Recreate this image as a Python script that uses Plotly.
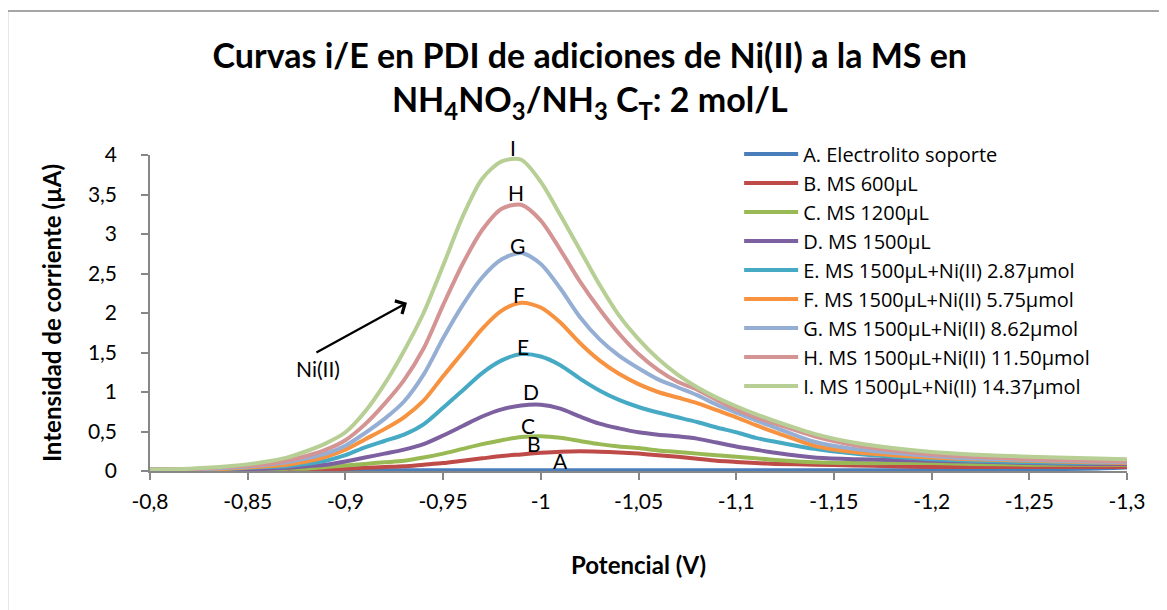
import plotly.graph_objects as go

# Potential (V)
potential = [-0.80, -0.82, -0.84,
             -0.86, -0.87, -0.88, -0.89, -0.90, -0.91, -0.92, -0.93, -0.94, -0.95,
             -0.96, -0.97, -0.98, -0.99, -1.00, -1.01, -1.02, -1.03, -1.04, -1.05,
             -1.06, -1.07, -1.08, -1.09, -1.10, -1.11, -1.12,
             -1.14, -1.16, -1.18, -1.20, -1.22, -1.25, -1.28, -1.30]

A_vals = [0.01, 0.01, 0.01,
          0.01, 0.01, 0.01, 0.01, 0.01, 0.01, 0.01, 0.01, 0.01, 0.01,
          0.01, 0.01, 0.01, 0.01, 0.01, 0.01, 0.01, 0.01, 0.01, 0.01,
          0.01, 0.01, 0.01, 0.01, 0.01, 0.01, 0.01,
          0.01, 0.01, 0.01, 0.012, 0.015, 0.02, 0.03, 0.045]
B_vals = [0.01, 0.01, 0.01,
          0.01, 0.01, 0.02, 0.02, 0.03, 0.04, 0.05, 0.06, 0.08, 0.10,
          0.13, 0.16, 0.19, 0.21, 0.23, 0.245, 0.25, 0.245, 0.235, 0.22,
          0.20, 0.18, 0.155, 0.13, 0.115, 0.10, 0.09,
          0.08, 0.07, 0.06, 0.05, 0.05, 0.05, 0.05, 0.05]
C_vals = [0.02, 0.02, 0.02,
          0.02, 0.03, 0.03, 0.05, 0.07, 0.09, 0.11, 0.13, 0.17, 0.22,
          0.28, 0.34, 0.39, 0.43, 0.44, 0.42, 0.38, 0.34, 0.31, 0.29,
          0.26, 0.24, 0.22, 0.20, 0.18, 0.16, 0.14,
          0.11, 0.10, 0.10, 0.10, 0.09, 0.08, 0.08, 0.08]
D_vals = [0.02, 0.02, 0.02,
          0.03, 0.04, 0.06, 0.08, 0.12, 0.17, 0.22, 0.27, 0.34, 0.45,
          0.57, 0.69, 0.78, 0.83, 0.84, 0.79, 0.69, 0.60, 0.54, 0.49,
          0.46, 0.44, 0.41, 0.36, 0.31, 0.27, 0.23,
          0.17, 0.15, 0.14, 0.13, 0.12, 0.10, 0.09, 0.09]
E_vals = [0.02, 0.02, 0.03,
          0.05, 0.06, 0.09, 0.13, 0.20, 0.30, 0.38, 0.46, 0.59, 0.80,
          1.02, 1.24, 1.40, 1.48, 1.45, 1.34, 1.17, 1.02, 0.90, 0.81,
          0.74, 0.68, 0.62, 0.55, 0.49, 0.42, 0.37,
          0.28, 0.22, 0.18, 0.15, 0.13, 0.11, 0.10, 0.10]
F_vals = [0.02, 0.02, 0.03,
          0.06, 0.08, 0.12, 0.18, 0.27, 0.40, 0.53, 0.68, 0.89, 1.20,
          1.50, 1.80, 2.03, 2.13, 2.07, 1.88, 1.62, 1.40, 1.23, 1.10,
          1.00, 0.93, 0.86, 0.77, 0.68, 0.58, 0.49,
          0.32, 0.24, 0.20, 0.17, 0.15, 0.13, 0.11, 0.10]
G_vals = [0.02, 0.02, 0.04,
          0.08, 0.11, 0.16, 0.22, 0.32, 0.48, 0.66, 0.88, 1.22, 1.68,
          2.10, 2.45, 2.68, 2.76, 2.62, 2.31, 1.95, 1.67, 1.46, 1.30,
          1.16, 1.06, 0.96, 0.84, 0.74, 0.64, 0.55,
          0.37, 0.28, 0.23, 0.19, 0.16, 0.14, 0.12, 0.11]
H_vals = [0.02, 0.02, 0.05,
          0.09, 0.13, 0.19, 0.27, 0.39, 0.59, 0.85, 1.15, 1.55, 2.10,
          2.62, 3.05, 3.32, 3.37, 3.17, 2.80, 2.40, 2.05, 1.74, 1.48,
          1.28, 1.13, 1.03, 0.90, 0.78, 0.68, 0.60,
          0.44, 0.33, 0.26, 0.21, 0.18, 0.15, 0.13, 0.12]
I_vals = [0.02, 0.03, 0.06,
          0.12, 0.17, 0.25, 0.35, 0.49, 0.75, 1.10, 1.52, 2.00, 2.60,
          3.22, 3.70, 3.92, 3.94, 3.66, 3.24, 2.80, 2.36, 1.97, 1.67,
          1.42, 1.22, 1.06, 0.93, 0.82, 0.72, 0.63,
          0.47, 0.36, 0.29, 0.24, 0.21, 0.18, 0.16, 0.15]

series_names = ["A. Electrolito soporte", "B. MS 600µL", "C. MS 1200µL", "D. MS 1500µL",
                "E. MS 1500µL+Ni(II) 2.87µmol", "F. MS 1500µL+Ni(II) 5.75µmol",
                "G. MS 1500µL+Ni(II) 8.62µmol", "H. MS 1500µL+Ni(II) 11.50µmol",
                "I. MS 1500µL+Ni(II) 14.37µmol"]
series_values = [A_vals, B_vals, C_vals, D_vals, E_vals, F_vals, G_vals, H_vals, I_vals]
colors = ["#4A7EBB", "#BE4B48", "#98B954", "#7D60A0", "#46AAC5", "#F69240",
          "#94AED4", "#D39493", "#B7CF95"]

# Peak labels
label_text = ["A", "B", "C", "D", "E", "F", "G", "H", "I"]
label_x = [-1.0103, -0.9965, -0.9934, -0.995, -0.9909, -0.9888, -0.9883, -0.9873, -0.9858]
label_y = [0.13, 0.35, 0.58, 1.01, 1.57, 2.23, 2.86, 3.52, 3.99]
label_shift = [0, 0, 0, 0, 0, 0, 0, 0, 8]

x_tickvals = [-0.8, -0.85, -0.9, -0.95, -1.0, -1.05, -1.1, -1.15, -1.2, -1.25, -1.3]
x_ticktext = ["-0,8", "-0,85", "-0,9", "-0,95", "-1", "-1,05", "-1,1", "-1,15", "-1,2", "-1,25", "-1,3"]
y_tickvals = [0, 0.5, 1, 1.5, 2, 2.5, 3, 3.5, 4]
y_ticktext = ["0", "0,5", "1", "1,5", "2", "2,5", "3", "3,5", "4"]

FONT = "Lato"
AXC = "#878787"

fig = go.Figure()
for name, vals, col in zip(series_names, series_values, colors):
    fig.add_trace(go.Scatter(x=potential, y=vals, mode="lines", name=name,
                             line=dict(color=col, width=4, shape="spline", smoothing=0.8)))

annotations = []
for t, lx, ly, sh in zip(label_text, label_x, label_y, label_shift):
    annotations.append(dict(x=lx, y=ly, xref="x", yref="y", text=t, showarrow=False, yshift=sh,
                            font=dict(family=FONT, size=21, color="black")))
# Arrow Ni(II)
annotations.append(dict(x=-0.9315, y=2.13, ax=-0.8844, ay=1.49, xref="x", yref="y",
                        axref="x", ayref="y", text="", showarrow=True, arrowhead=4,
                        arrowsize=1.3, arrowwidth=2.2, arrowcolor="black"))
annotations.append(dict(x=-0.886, y=1.30, xref="x", yref="y", text="Ni(II)", showarrow=False,
                        font=dict(family=FONT, size=21, color="black")))

fig.update_layout(
    width=1159, height=602,
    margin=dict(l=142, r=40, t=147, b=139),
    paper_bgcolor="white", plot_bgcolor="white",
    separators=", ",
    title=dict(text="<b>Curvas i/E en PDI de adiciones de Ni(II) a la MS en<br>NH<sub>4</sub>NO<sub>3</sub>/NH<sub>3</sub> C<sub>T</sub>: 2 mol/L</b>",
               x=0.502, xanchor="center", y=0.90, yanchor="middle",
               font=dict(family=FONT, size=34, color="black")),
    xaxis=dict(range=[-0.8, -1.3], tickvals=x_tickvals, ticktext=x_ticktext,
               showgrid=False, zeroline=False, showline=True, linecolor=AXC, linewidth=1.5,
               ticks="outside", ticklen=7, tickcolor=AXC, tickwidth=1.5,
               ticklabelstandoff=4,
               tickfont=dict(family=FONT, size=21, color="black"),
               title=dict(text="<b>Potencial (V)</b>", font=dict(family=FONT, size=24, color="black"),
                          standoff=45)),
    yaxis=dict(range=[0, 4], tickvals=y_tickvals, ticktext=y_ticktext,
               showgrid=False, zeroline=False, showline=True, linecolor=AXC, linewidth=1.5,
               ticks="outside", ticklen=7, tickcolor=AXC, tickwidth=1.5,
               ticklabelstandoff=20,
               tickfont=dict(family=FONT, size=21, color="black"),
               title=dict(text="<b>Intensidad de corriente (µA)</b>",
                          font=dict(family=FONT, size=24, color="black"), standoff=20)),
    legend=dict(x=0.603, y=1.065, xanchor="left", yanchor="top", bgcolor="rgba(0,0,0,0)",
                font=dict(family="Open Sans", size=20, color="black"), itemwidth=54),
    showlegend=True,
    annotations=annotations,
    shapes=[dict(type="rect", xref="paper", yref="paper", x0=-0.1459, x1=1.2, y0=-0.6, y1=1.4557,
                 line=dict(color="#898989", width=1.5), fillcolor="rgba(0,0,0,0)", layer="below")],
)

fig.write_html("out.html")
